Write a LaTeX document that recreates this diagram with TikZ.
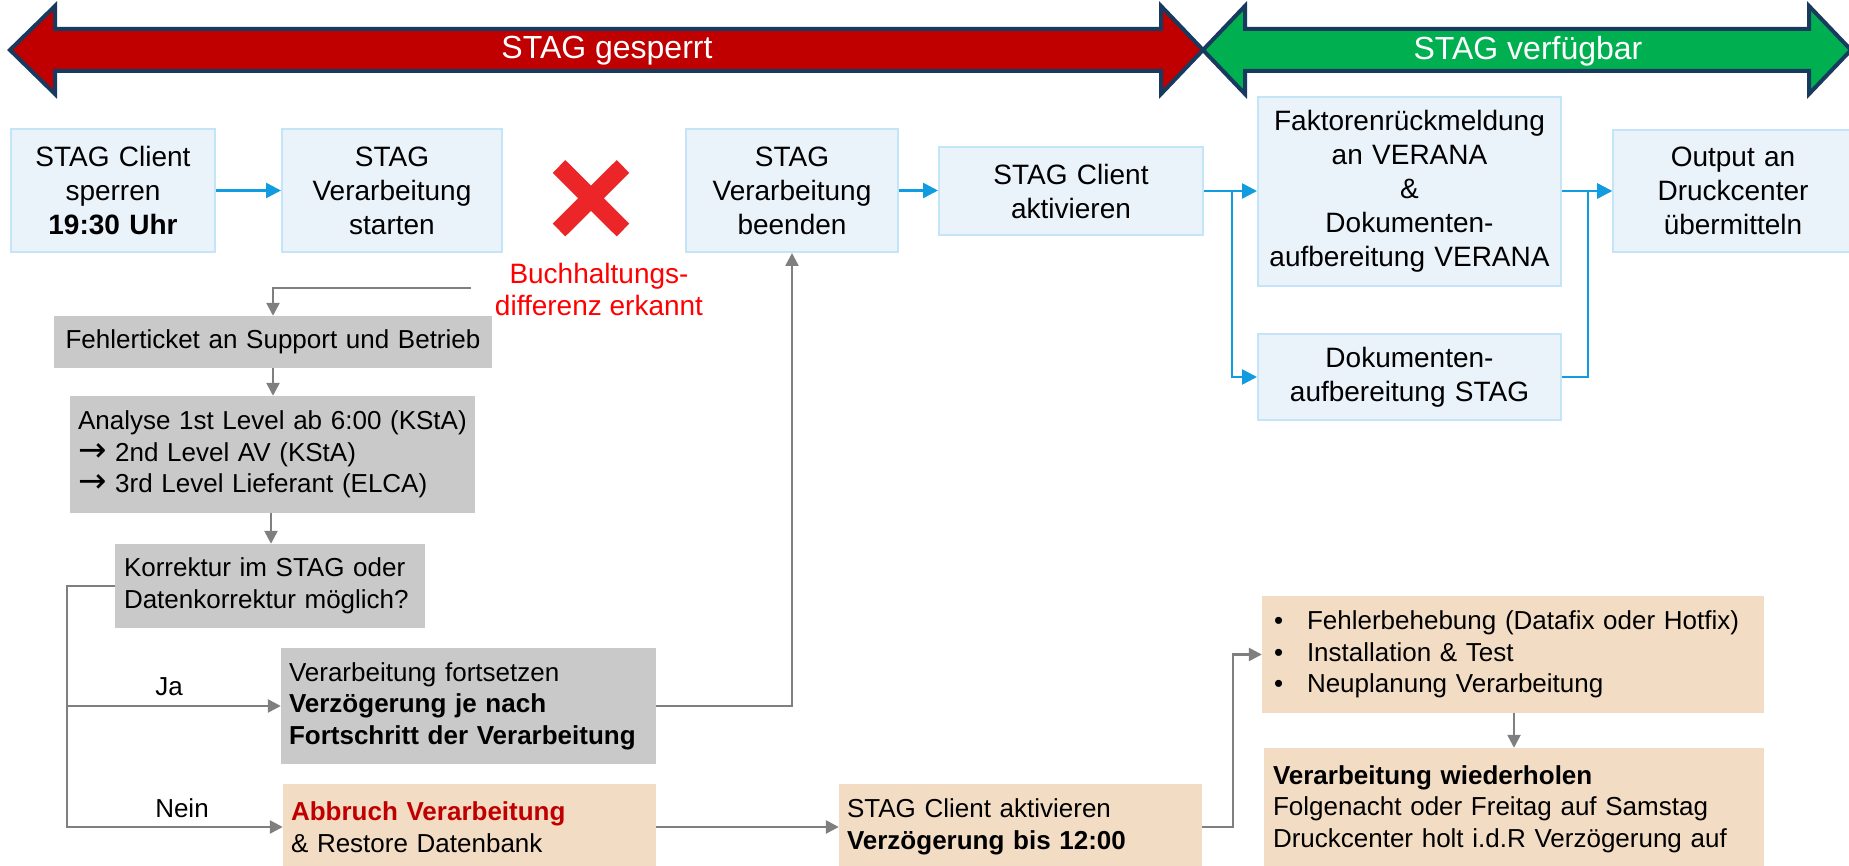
\documentclass[tikz,border=0pt]{standalone}
\usepackage{fontspec}
\setmainfont{Liberation Sans}
\newfontfamily\arrowfont{DejaVu Sans}
\usetikzlibrary{arrows.meta}
\definecolor{redarrow}{HTML}{C00000}
\definecolor{greenarrow}{HTML}{00B050}
\definecolor{navyline}{HTML}{173A5E}
\definecolor{topfill}{HTML}{EAF2FA}
\definecolor{topborder}{HTML}{C4E4F8}
\definecolor{grayfill}{HTML}{C9C9C9}
\definecolor{peachfill}{HTML}{F2DCC3}
\definecolor{arrblue}{HTML}{119BE0}
\definecolor{arrgray}{HTML}{7F7F7F}
\definecolor{xred}{HTML}{EC2529}
\definecolor{lblred}{HTML}{FF0000}
\definecolor{darkred}{HTML}{C00000}
\newcommand{\fnTop}{\fontsize{28}{34}\selectfont}
\newcommand{\fnBox}{\fontsize{26}{31.5}\selectfont}
\newcommand{\fnBand}{\fontsize{32}{38}\selectfont}
\newcommand{\fnLbl}{\fontsize{28}{32}\selectfont}
\newcommand{\arr}{{\arrowfont\fontsize{34}{31.5}\selectfont →}}
\begin{document}
\begin{tikzpicture}[x=1pt,y=-1pt,
  topbox/.style={draw=topborder, line width=2pt, fill=topfill, align=center, font=\fnTop, inner sep=0pt},
  graybox/.style={fill=grayfill, align=left, font=\fnBox, inner xsep=8pt, inner ysep=0pt},
  peachbox/.style={fill=peachfill, align=left, font=\fnBox, inner xsep=8pt, inner ysep=0pt},
  bluearrow/.style={draw=arrblue, line width=2.5pt, -{Triangle[length=15pt,width=15pt]}},
  grayarrow/.style={draw=arrgray, line width=2.5pt, -{Triangle[length=13pt,width=13pt]}},
  band/.style={draw=navyline, line width=4pt, line join=miter},
  bandtext/.style={text=white, font=\fnBand, inner sep=0pt},
  lbltext/.style={font=\fnBox, inner sep=0pt}
]
\useasboundingbox (0,0) rectangle (1849,866);
\clip (0,0) rectangle (1849,866);

% top bands
\path[band, fill=redarrow] (10,50) -- (55,6) -- (55,29) -- (1161,29) -- (1161,6) -- (1203,50)
   -- (1161,94) -- (1161,71) -- (55,71) -- (55,94) -- cycle;
\path[band, fill=greenarrow] (1203,50) -- (1245,6) -- (1245,29) -- (1809,29) -- (1809,6) -- (1851,50)
   -- (1809,94) -- (1809,71) -- (1245,71) -- (1245,94) -- cycle;
\node[bandtext] (tred) at (607,51) {STAG gesperrt};
\node[bandtext] (tgreen) at (1528,51) {STAG verfügbar};

% top row
\node[topbox, minimum width=204pt, minimum height=123pt, text width=204pt] (b1) at (113,190.5)
  {STAG Client\\sperren\\\textbf{19:30 Uhr}};
\node[topbox, minimum width=220pt, minimum height=123pt, text width=220pt] (b2) at (392,190.5)
  {STAG\\Verarbeitung\\starten};
\node[topbox, minimum width=212pt, minimum height=123pt, text width=212pt] (b3) at (792,190.5)
  {STAG\\Verarbeitung\\beenden};
\node[topbox, minimum width=264pt, minimum height=88pt, text width=264pt] (b4) at (1071,191)
  {STAG Client\\aktivieren};
\node[topbox, minimum width=303pt, minimum height=189pt, text width=303pt] (b5) at (1409.5,191.5)
  {Faktorenrückmeldung\\an VERANA\\\&\\Dokumenten-\\aufbereitung VERANA};
\node[topbox, minimum width=303pt, minimum height=86pt, text width=303pt] (b7) at (1409.5,377)
  {Dokumenten-\\aufbereitung STAG};
\node[topbox, minimum width=240pt, minimum height=122pt, text width=240pt] (b6) at (1733,191)
  {Output an\\Druckcenter\\übermitteln};

% blue connectors
\draw[bluearrow] (b1.east) -- (b2.west);
\draw[bluearrow] (b3.east) -- (b3.east -| b4.west);
\draw[bluearrow] (b4.east) -- (b4.east -| b5.west);
\draw[bluearrow] (b4.east) -- ++(28,0) |- (b7.west);
\draw[bluearrow] (b5.east |- b6.west) -- (b6.west);
\draw[bluearrow] (b7.east) -- ++(26,0) |- (b6.west);

% red cross and label
\draw[xred, line width=18pt] (559,166.5) -- (623,230);
\draw[xred, line width=18pt] (623,166.5) -- (559,230);
\node[text=lblred, font=\fnLbl, align=center, inner sep=0pt] (lbl) at (599,289)
  {Buchhaltungs-\\differenz erkannt};
\coordinate (lblstart) at (471,288);

% gray boxes
\node[graybox, align=center, minimum width=438pt, minimum height=52pt, text width=422pt] (g1) at (273,342)
  {Fehlerticket an Support und Betrieb};
\node[graybox, minimum width=405pt, minimum height=117pt, text width=389pt] (g2) at (272.5,454.5)
  {Analyse 1st Level ab 6:00 (KStA)\\\arr{} 2nd Level AV (KStA)\\\arr{} 3rd Level Lieferant (ELCA)};
\node[graybox, minimum width=310pt, minimum height=84pt, text width=292pt, inner xsep=9pt] (g3) at (270,586)
  {Korrektur im STAG oder\\Datenkorrektur möglich?};
\node[graybox, minimum width=375pt, minimum height=116pt, text width=359pt] (g4) at (468.5,706)
  {Verarbeitung fortsetzen\\\textbf{Verzögerung je nach}\\\textbf{Fortschritt der Verarbeitung}};

% peach boxes
\node[peachbox, minimum width=373pt, minimum height=86pt, text width=357pt] (p1) at (469.5,827)
  {\textcolor{darkred}{\textbf{Abbruch Verarbeitung}}\\\& Restore Datenbank};
\node[peachbox, minimum width=363pt, minimum height=86pt, text width=347pt] (p2) at (1020.5,827)
  {STAG Client aktivieren\\\textbf{Verzögerung bis 12:00}};
\node[peachbox, minimum width=502pt, minimum height=117pt, text width=478pt, inner xsep=12pt] (p3) at (1513,654.5)
  {\makebox[33pt][l]{•}Fehlerbehebung (Datafix oder Hotfix)\\\makebox[33pt][l]{•}Installation \& Test\\\makebox[33pt][l]{•}Neuplanung Verarbeitung};
\node[peachbox, minimum width=500pt, minimum height=122pt, text width=482pt, inner xsep=9pt] (p4) at (1514,809)
  {\textbf{Verarbeitung wiederholen}\\Folgenacht oder Freitag auf Samstag\\Druckcenter holt i.d.R Verzögerung auf};

% labels
\node[lbltext] (ja) at (169,687) {Ja};
\node[lbltext] (nein) at (182,808) {Nein};

% gray connectors
\draw[grayarrow] (lblstart) -| (g1.north);
\draw[grayarrow] (g1.south) -- (g1.south |- g2.north);
\draw[grayarrow] ([xshift=1pt]g2.south -| g3.north) -- ([xshift=1pt]g3.north);
\draw[grayarrow] (g3.west) -- ++(-48,0) |- (g4.west);
\draw[grayarrow] (g3.west) -- ++(-48,0) |- (p1.west);
\draw[grayarrow] (g4.east) -| (b3.south);
\draw[grayarrow] (p1.east) -- (p2.west);
\draw[grayarrow] (p2.east) -- ++(31,0) |- (p3.west);
\draw[grayarrow] (p3.south -| p4.north) -- (p4.north);
\end{tikzpicture}
\end{document}
